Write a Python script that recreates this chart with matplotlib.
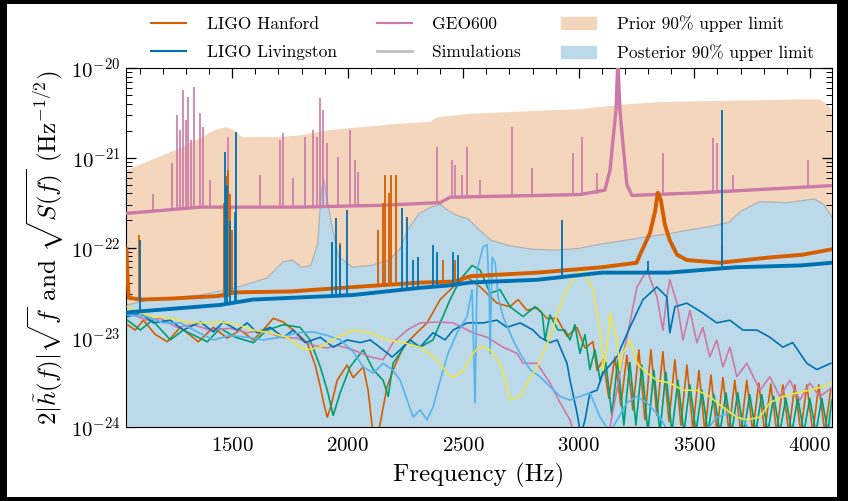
import numpy as np
import matplotlib
matplotlib.use('Agg')
import matplotlib.pyplot as plt
from matplotlib.lines import Line2D
from matplotlib.patches import Patch, Rectangle
from matplotlib.ticker import FixedLocator, NullFormatter

plt.rcParams['font.family'] = 'serif'
plt.rcParams['font.serif'] = ['cmr10']
plt.rcParams['mathtext.fontset'] = 'cm'
plt.rcParams['axes.formatter.use_mathtext'] = True

# amplitudes are stored as log10 values

# upper limits
prior_f = [1042, 1145, 1275, 1362, 1426, 1474, 1505, 1543, 1621, 1708, 1794, 1924, 2054, 2227,
           2356, 2387, 2529, 2715, 2875, 3005, 3178, 3351, 3524, 3784, 3957, 4043, 4078, 4095]
prior_lg = [-21.14, -21.03, -20.89, -20.78, -20.69, -20.66, -20.69, -20.77, -20.77, -20.77, -20.75,
            -20.69, -20.66, -20.62, -20.60, -20.55, -20.51, -20.49, -20.47, -20.46, -20.41, -20.38,
            -20.37, -20.36, -20.35, -20.35, -20.41, -20.47]

post_f = [1042, 1150, 1362, 1500, 1650, 1720, 1760, 1800, 1840, 1870, 1885, 1895, 1910, 1930, 1960,
          2020, 2100, 2180, 2230, 2260, 2310, 2360, 2400, 2430, 2470, 2520, 2560, 2620, 2700, 2800,
          2900, 3000, 3100, 3250, 3400, 3560, 3650, 3700, 3780, 3900, 4020, 4060, 4095]
post_lg = [-22.64, -22.58, -22.53, -22.46, -22.34, -22.16, -22.14, -22.22, -22.20, -21.95, -21.40,
           -21.23, -21.45, -21.75, -22.10, -22.22, -22.20, -22.14, -22.00, -21.80, -21.62, -21.55,
           -21.52, -21.58, -21.64, -21.68, -21.78, -21.92, -21.98, -22.02, -22.03, -22.01, -21.96,
           -21.90, -21.84, -21.77, -21.72, -21.60, -21.49, -21.50, -21.46, -21.52, -21.66]

# detector noise, smooth floor
geo_f = [1042, 1362, 1794, 2140, 2400, 2443, 3005, 3113, 3135, 3148, 3161, 3169, 3178, 3191, 3208,
         3230, 3524, 3957, 4095]
geo_lg = [-21.62, -21.55, -21.55, -21.53, -21.50, -21.44, -21.41, -21.36, -21.14, -20.80, -20.47,
          -19.91, -20.47, -20.84, -21.30, -21.42, -21.39, -21.33, -21.31]

hanford_f = [1042, 1046, 1052, 1100, 1230, 1440, 1510, 1750, 2030, 2320, 2460, 2530, 2820, 3100,
             3250, 3265, 3308, 3330, 3342, 3355, 3373, 3394, 3425, 3468, 3610, 3830, 3970, 4095]
hanford_lg = [-22.02, -22.30, -22.56, -22.58, -22.57, -22.54, -22.50, -22.49, -22.44, -22.39, -22.38,
              -22.32, -22.28, -22.22, -22.17, -22.08, -21.84, -21.60, -21.39, -21.47, -21.75, -21.92,
              -22.08, -22.14, -22.17, -22.11, -22.08, -22.02]

livingston_f = [1042, 1060, 1448, 1590, 2020, 2310, 2450, 2530, 2820, 3100, 3390, 3680, 3960, 4095]
livingston_lg = [-22.73, -22.72, -22.64, -22.58, -22.53, -22.45, -22.42, -22.39, -22.36, -22.28,
                 -22.28, -22.22, -22.20, -22.17]

# narrow lines: frequency, floor under the line, line top
geo_line_f = [1158, 1240, 1262, 1275, 1288, 1301, 1310, 1323, 1336, 1362, 1375, 1405, 1483, 1621,
              1708, 1721, 1764, 1816, 1850, 1868, 1881, 1894, 1911, 1958, 2010, 2032, 2045, 2387,
              2451, 2464, 2495, 2516, 2573, 2711, 2797, 2975, 3014, 3079, 3364, 3580, 3597, 3667, 3991]
geo_line_base = [-21.58, -21.57, -21.57, -21.57, -21.57, -21.56, -21.56, -21.56, -21.56, -21.55,
                 -21.55, -21.55, -21.55, -21.55, -21.55, -21.55, -21.55, -21.55, -21.55, -21.55,
                 -21.55, -21.55, -21.55, -21.54, -21.54, -21.54, -21.54, -21.50, -21.45, -21.44,
                 -21.44, -21.44, -21.44, -21.43, -21.43, -21.41, -21.41, -21.40, -21.40, -21.38,
                 -21.38, -21.38, -21.33]
geo_line_top = [-21.40, -21.06, -20.52, -20.69, -20.25, -20.58, -20.32, -20.80, -20.21, -20.50,
                -20.66, -21.25, -20.77, -21.19, -20.80, -20.72, -21.23, -20.77, -20.69, -20.77,
                -20.33, -20.47, -20.84, -20.99, -20.69, -21.03, -21.16, -20.88, -21.03, -21.08,
                -21.19, -20.88, -21.25, -20.66, -21.11, -20.95, -20.77, -21.17, -20.95, -20.78,
                -20.84, -21.19, -21.03]

hanford_line_f = [1095, 1465, 1475, 1483, 1492, 1500, 1932, 1967, 2131, 2153, 2162, 2179, 2188,
                  2209, 2413, 2464, 3620]
hanford_line_base = [-22.60, -22.56, -22.55, -22.55, -22.55, -22.52, -22.47, -22.46, -22.43,
                     -22.43, -22.43, -22.42, -22.42, -22.42, -22.38, -22.38, -22.17]
hanford_line_top = [-21.86, -21.50, -21.20, -21.14, -21.40, -21.80, -21.94, -21.95, -21.80, -21.50,
                    -21.19, -21.39, -21.19, -21.19, -22.14, -22.14, -21.97]

livingston_line_f = [1102, 1470, 1478, 1490, 1510, 1517, 1932, 1950, 1967, 1997, 2235, 2257, 2283,
                     2304, 2369, 2387, 2456, 2477, 2927, 3300, 3620]
livingston_line_base = [-22.72, -22.64, -22.64, -22.63, -22.62, -22.62, -22.54, -22.54, -22.53,
                        -22.53, -22.47, -22.46, -22.46, -22.45, -22.44, -22.43, -22.42, -22.41,
                        -22.34, -22.28, -22.25]
livingston_line_top = [-21.92, -20.94, -21.30, -21.70, -21.60, -20.71, -21.94, -21.67, -21.97,
                       -21.58, -21.56, -21.66, -22.14, -22.11, -21.97, -22.05, -22.05, -22.08,
                       -21.69, -22.15, -20.47]

# simulated signals
sim_orange_f = [1046, 1080, 1115, 1167, 1219, 1275, 1353, 1418, 1478, 1535, 1591, 1634, 1677, 1721,
                1764, 1824, 1859, 1881, 1898, 1911, 1928, 1954, 1997, 2023, 2067, 2088, 2110, 2131,
                2170, 2205, 2240, 2283, 2343, 2400, 2456, 2516, 2573, 2646, 2702, 2737, 2776, 2819,
                2862, 2906, 2949, 2992, 3027, 3061, 3079, 3105, 3130, 3156, 3182, 3208, 3234, 3260,
                3286, 3312, 3338, 3364, 3390, 3416, 3442, 3468, 3494, 3520, 3546, 3572, 3598, 3624,
                3650, 3675, 3701, 3727, 3753, 3779, 3805, 3831, 3857, 3883, 3909, 3935, 3961, 3987,
                4013, 4039, 4065, 4091]
sim_orange_lg = [-22.86, -22.92, -22.81, -22.97, -23.05, -22.89, -23.05, -22.89, -23.01, -22.92,
                 -23.03, -22.92, -22.79, -22.83, -22.92, -23.06, -23.31, -23.55, -23.76, -23.89,
                 -23.76, -23.48, -23.31, -23.45, -23.33, -23.59, -24.09, -24.09, -23.55, -23.31,
                 -23.11, -22.99, -22.84, -22.58, -22.44, -22.33, -22.44, -22.62, -22.66, -22.58,
                 -22.70, -22.67, -22.79, -22.79, -22.99, -22.89, -23.12, -23.05, -23.37, -23.25,
                 -23.68, -23.22, -23.76, -23.20, -23.81, -23.14, -23.92, -23.14, -23.87, -23.16,
                 -23.94, -23.25, -23.98, -23.31, -24.03, -23.37, -24.06, -23.42, -24.06, -23.45,
                 -24.06, -23.48, -24.06, -23.48, -24.06, -23.51, -24.06, -23.52, -24.06, -23.53,
                 -24.06, -23.53, -24.06, -23.53, -24.06, -23.53, -24.06, -23.57]

sim_green_f = [1046, 1102, 1154, 1232, 1288, 1392, 1448, 1513, 1591, 1651, 1721, 1794, 1837, 1881,
               1911, 1937, 1967, 2010, 2067, 2110, 2153, 2175, 2196, 2257, 2313, 2369, 2443, 2486,
               2538, 2573, 2616, 2659, 2702, 2759, 2810, 2841, 2854, 2875, 2910, 2940, 2962, 2983,
               3005, 3027, 3048, 3070, 3092, 3117, 3143, 3169, 3195, 3221, 3247, 3273, 3299, 3325,
               3351, 3377, 3403, 3429, 3455, 3481, 3507, 3533, 3559, 3585, 3611, 3637, 3662, 3688,
               3714, 3740, 3766, 3792, 3818, 3844, 3870, 3896, 3922, 3948, 3974, 4000, 4026, 4052,
               4078, 4095]
sim_green_lg = [-22.81, -22.92, -22.81, -23.03, -22.92, -23.05, -22.90, -23.00, -23.06, -22.92,
                -22.86, -22.89, -23.03, -23.33, -23.59, -23.87, -23.62, -23.33, -23.14, -23.36,
                -23.48, -23.66, -23.29, -23.06, -23.11, -23.03, -22.58, -22.36, -22.20, -22.25,
                -22.51, -22.47, -22.66, -22.77, -22.66, -22.73, -23.03, -22.75, -22.92, -22.92,
                -23.03, -22.86, -23.18, -22.97, -23.36, -23.14, -23.48, -23.28, -23.87, -23.25,
                -23.98, -23.28, -23.98, -23.31, -24.06, -23.37, -24.06, -23.39, -24.06, -23.48,
                -24.06, -23.53, -24.06, -23.59, -24.06, -23.64, -24.06, -23.62, -24.06, -23.62,
                -24.06, -23.64, -24.06, -23.64, -24.06, -23.66, -24.06, -23.68, -24.06, -23.68,
                -24.06, -23.68, -24.06, -23.68, -24.06, -23.70]

sim_pink_f = [1046, 1132, 1189, 1262, 1331, 1405, 1491, 1565, 1634, 1708, 1781, 1850, 1911, 1954,
              2023, 2097, 2153, 2196, 2257, 2313, 2387, 2456, 2542, 2603, 2672, 2733, 2759, 2819,
              2875, 2919, 2962, 2988, 3117, 3135, 3191, 3252, 3295, 3338, 3364, 3381, 3394, 3425,
              3451, 3481, 3511, 3537, 3567, 3597, 3624, 3654, 3684, 3727, 3784, 3827, 3870, 3913,
              3957, 4000, 4043, 4091]
sim_pink_lg = [-22.73, -22.81, -22.79, -22.89, -22.86, -22.92, -22.90, -22.95, -22.92, -23.00,
               -23.01, -23.09, -23.12, -23.09, -23.14, -23.22, -23.25, -23.06, -22.92, -22.84,
               -22.83, -22.84, -22.95, -23.00, -23.11, -23.18, -23.29, -23.29, -23.51, -23.73,
               -23.92, -24.15, -24.15, -24.00, -23.22, -22.44, -22.25, -22.55, -22.92, -22.55,
               -22.36, -22.62, -23.03, -22.70, -23.06, -22.89, -23.22, -23.03, -23.33, -23.11,
               -23.44, -23.29, -23.59, -23.44, -23.66, -23.48, -23.70, -23.51, -23.66, -23.57]

sim_blue_f = [1046, 1102, 1158, 1232, 1288, 1362, 1418, 1461, 1522, 1565, 1608, 1664, 1721, 1764,
              1816, 1881, 1937, 1997, 2054, 2097, 2153, 2192, 2227, 2270, 2313, 2369, 2421, 2456,
              2516, 2586, 2646, 2689, 2746, 2802, 2832, 2875, 2906, 2949, 2962, 2992, 3009, 3027,
              3048, 3079, 3105, 3165, 3221, 3278, 3338, 3381, 3394, 3416, 3468, 3537, 3597, 3654,
              3710, 3771, 3827, 3883, 3926, 3987, 4030, 4056, 4091]
sim_blue_lg = [-22.77, -22.73, -22.84, -22.81, -22.92, -22.83, -22.94, -22.83, -22.92, -22.84,
               -22.95, -22.89, -23.00, -22.92, -23.06, -23.00, -23.11, -23.03, -23.06, -23.03,
               -23.14, -23.22, -23.14, -23.03, -23.11, -22.95, -23.03, -22.92, -22.84, -22.84,
               -22.81, -22.89, -22.84, -22.92, -23.00, -23.06, -23.03, -23.29, -23.48, -23.84,
               -24.09, -23.92, -23.62, -23.59, -23.40, -23.22, -22.89, -22.58, -22.44, -22.55,
               -22.95, -22.66, -22.62, -22.73, -22.84, -22.81, -22.92, -22.92, -23.00, -23.11,
               -23.06, -23.29, -23.36, -23.33, -23.29]

sim_lightblue_f = [1046, 1132, 1202, 1275, 1349, 1418, 1491, 1565, 1634, 1708, 1781, 1850, 1911,
                   1967, 2023, 2067, 2110, 2153, 2196, 2227, 2257, 2283, 2313, 2343, 2369, 2400,
                   2434, 2473, 2516, 2538, 2551, 2560, 2586, 2603, 2612, 2616, 2625, 2638, 2651,
                   2672, 2715, 2746, 2789, 2832, 2875, 2919, 2962, 3005, 3048, 3092, 3135, 3208,
                   3252, 3295, 3351, 3394, 3537, 3597, 3654, 3710, 3753]
sim_lightblue_lg = [-22.75, -22.77, -22.84, -22.84, -22.94, -23.03, -22.98, -23.00, -23.03, -23.00,
                    -22.95, -22.94, -22.98, -23.03, -23.16, -23.33, -23.40, -23.29, -23.37, -23.48,
                    -23.70, -23.89, -23.81, -23.92, -23.78, -23.48, -23.18, -22.95, -22.77, -22.47,
                    -23.73, -22.25, -21.99, -21.97, -22.47, -23.18, -22.11, -22.17, -22.55, -22.77,
                    -23.03, -23.18, -23.36, -23.44, -23.55, -23.66, -23.70, -23.66, -23.62, -23.89,
                    -24.06, -23.73, -23.66, -23.73, -23.89, -24.09, -24.09, -23.89, -23.84, -23.92,
                    -24.09]

sim_yellow_f = [1046, 1102, 1158, 1232, 1305, 1375, 1448, 1522, 1591, 1664, 1738, 1794, 1824, 1881,
                1954, 2023, 2097, 2170, 2240, 2313, 2387, 2430, 2456, 2499, 2542, 2573, 2616, 2659,
                2689, 2702, 2746, 2776, 2819, 2875, 2932, 2992, 3018, 3061, 3092, 3105, 3122, 3135,
                3165, 3178, 3191, 3221, 3252, 3295, 3338, 3394, 3451, 3511, 3567, 3624, 3684, 3727,
                3784, 3827, 3883, 3944, 4000, 4056, 4091]
sim_yellow_lg = [-22.66, -22.73, -22.77, -22.79, -22.83, -22.84, -22.83, -22.86, -22.92, -22.95,
                 -23.00, -23.11, -23.14, -23.11, -23.00, -22.92, -22.95, -23.03, -23.06, -23.11,
                 -23.25, -23.40, -23.45, -23.37, -23.18, -23.10, -23.14, -23.29, -23.55, -23.70,
                 -23.66, -23.51, -23.33, -23.00, -22.55, -22.28, -22.25, -22.47, -22.92, -23.37,
                 -23.11, -22.73, -23.03, -23.37, -23.18, -23.03, -23.29, -23.40, -23.48, -23.51,
                 -23.59, -23.59, -23.66, -23.78, -23.89, -23.92, -23.89, -23.73, -23.66, -23.62,
                 -23.59, -23.55, -23.51]

x_ticks = [1500, 2000, 2500, 3000, 3500, 4000]
y_ticks = [1e-24, 1e-23, 1e-22, 1e-21, 1e-20]

HANFORD = '#d55e00'
LIVINGSTON = '#0072b2'
GEO = '#cc79a7'


def amp(lg):
    return 10.0 ** np.asarray(lg)


fig = plt.figure(figsize=(8.48, 5.01), dpi=100, facecolor='black')
fig.add_artist(Rectangle((7 / 848, 4 / 501), 830 / 848, 493 / 501, transform=fig.transFigure,
                         facecolor='white', edgecolor='none', zorder=-5))
ax = fig.add_axes([126 / 848, 74 / 501, 706 / 848, 359 / 501])

ax.fill_between(prior_f, 1e-26, amp(prior_lg), color='#f4d6bd', lw=0, zorder=1)
ax.fill_between(post_f, 1e-26, amp(post_lg), color='#bcd9ea', lw=0, zorder=2)
ax.plot(post_f, amp(post_lg), color='#a8b4ba', lw=0.9, zorder=2.1)

sims = [(sim_orange_f, sim_orange_lg, HANFORD), (sim_green_f, sim_green_lg, '#009e73'),
        (sim_pink_f, sim_pink_lg, GEO), (sim_blue_f, sim_blue_lg, LIVINGSTON),
        (sim_lightblue_f, sim_lightblue_lg, '#56b4e9'), (sim_yellow_f, sim_yellow_lg, '#f0e442')]
for f, lg, c in sims:
    ax.plot(f, amp(lg), color=c, lw=1.2, zorder=3)

ax.plot(geo_f, amp(geo_lg), color=GEO, lw=2.4, zorder=4)
ax.vlines(geo_line_f, amp(geo_line_base), amp(geo_line_top), color=GEO, lw=1.2, zorder=4)
ax.plot(hanford_f, amp(hanford_lg), color=HANFORD, lw=2.8, zorder=5)
ax.vlines(hanford_line_f, amp(hanford_line_base), amp(hanford_line_top), color=HANFORD, lw=1.3, zorder=5)
ax.plot(livingston_f, amp(livingston_lg), color=LIVINGSTON, lw=2.8, zorder=6)
ax.vlines(livingston_line_f, amp(livingston_line_base), amp(livingston_line_top), color=LIVINGSTON,
          lw=1.3, zorder=6)

ax.set_yscale('log')
ax.set_xlim(1040, 4096)
ax.set_ylim(1e-24, 1e-20)
ax.xaxis.set_major_locator(FixedLocator(x_ticks))
ax.xaxis.set_minor_locator(FixedLocator(np.arange(1100, 4100, 100)))
ax.yaxis.set_major_locator(FixedLocator(y_ticks))
ax.yaxis.set_minor_locator(FixedLocator([m * t for t in y_ticks[:-1] for m in range(2, 10)]))
ax.yaxis.set_minor_formatter(NullFormatter())
ax.tick_params(which='both', direction='in', top=True, right=True, labelsize=15)
ax.tick_params(which='major', length=7, width=0.9)
ax.tick_params(which='minor', length=4, width=0.7)
ax.tick_params(axis='x', pad=7)
ax.tick_params(axis='y', pad=4)

ax.set_xlabel('Frequency (Hz)', fontsize=18, labelpad=6)
ax.set_ylabel(r'$2|\tilde{h}(f)|\sqrt{f}$ and $\sqrt{S(f)}$ (Hz$^{-1/2}$)', fontsize=18, labelpad=4)

handles = [Line2D([], [], color=HANFORD, lw=1.5), Line2D([], [], color=LIVINGSTON, lw=1.5),
           Line2D([], [], color=GEO, lw=1.5), Line2D([], [], color='#c0c0c0', lw=2),
           Patch(color='#f4d6bd'), Patch(color='#bcd9ea')]
labels = ['LIGO Hanford', 'LIGO Livingston', 'GEO600', 'Simulations',
          r'Prior 90% upper limit', r'Posterior 90% upper limit']
ax.legend(handles, labels, loc='lower center', bbox_to_anchor=(0.505, 1.0), ncol=3, frameon=False,
          fontsize=12.5, handlelength=2.0, handletextpad=1.2, columnspacing=2.3, labelspacing=0.7,
          borderaxespad=0.0)

fig.savefig('out.png', dpi=100, facecolor=fig.get_facecolor())
